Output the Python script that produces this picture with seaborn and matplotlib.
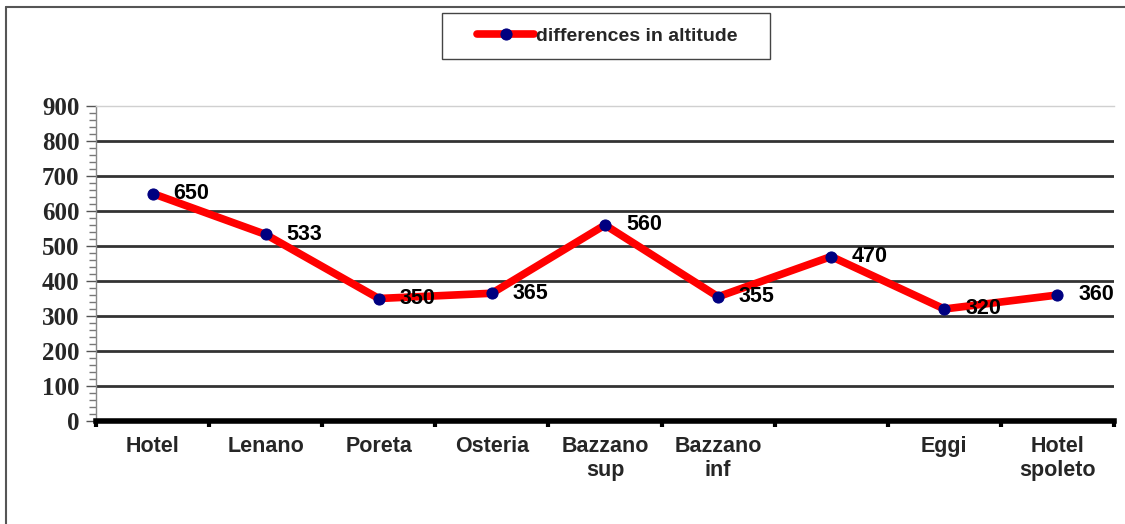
import matplotlib
matplotlib.use("Agg")
import matplotlib.pyplot as plt
import seaborn as sns
import pandas as pd
import numpy as np
from matplotlib.lines import Line2D
from matplotlib.patches import Rectangle
from matplotlib.ticker import MultipleLocator, FixedLocator, NullFormatter

categories = ["Hotel", "Lenano", "Poreta", "Osteria", "Bazzano\nsup", "Bazzano\ninf", "", "Eggi", "Hotel\nspoleto"]
values = [650, 533, 350, 365, 560, 355, 470, 320, 360]
series_name = "differences in altitude"
y_ticks = [0, 100, 200, 300, 400, 500, 600, 700, 800, 900]

df = pd.DataFrame({"idx": np.arange(len(categories)), "value": values})

sns.set_style("white")
fig = plt.figure(figsize=(11.25, 5.24), dpi=100)
ax = fig.add_axes([96/1125, 1-421/524, (1114-96)/1125, (421-106)/524])

sns.lineplot(data=df, x="idx", y="value", ax=ax, color="#ff0000", linewidth=5.5,
             marker="o", markersize=8, markerfacecolor="#000080", markeredgecolor="#000080",
             label=series_name, zorder=3)

for i, v in enumerate(values):
    ax.annotate(str(v), (i, v), xytext=(15, 0), textcoords="offset points",
                ha="left", va="center", fontsize=15.5, fontweight="bold",
                family="Liberation Sans", color="black", zorder=4)

ax.set_xlim(-0.5, len(categories) - 0.5)
ax.set_ylim(0, 900)

# grid lines
for y in y_ticks[1:-1]:
    ax.axhline(y, color="#333333", linewidth=2, zorder=1)
ax.axhline(900, color="#c8c8c8", linewidth=1.2, zorder=1)

# y axis
ax.yaxis.set_major_locator(FixedLocator(y_ticks))
ax.yaxis.set_minor_locator(MultipleLocator(20))
ax.set_yticklabels([str(t) for t in y_ticks], fontsize=18, fontweight="bold", family="Liberation Serif")
ax.tick_params(axis="y", which="major", left=True, length=7, width=1, color="#555555", pad=5)
ax.tick_params(axis="y", which="minor", left=True, length=5, width=1, color="#777777")

# x axis
ax.set_xticks(np.arange(len(categories)))
ax.set_xticklabels(categories, fontsize=15.5, fontweight="bold", family="Liberation Sans", linespacing=1.15)
ax.tick_params(axis="x", which="major", length=0, pad=11)
ax.xaxis.set_minor_locator(FixedLocator(np.arange(len(categories) + 1) - 0.5))
ax.xaxis.set_minor_formatter(NullFormatter())
ax.tick_params(axis="x", which="minor", bottom=True, length=4, width=3, color="black")

ax.set_xlabel("")
ax.set_ylabel("")

ax.spines["right"].set_visible(False)
ax.spines["top"].set_color("#d0d0d0")
ax.spines["top"].set_linewidth(1)
ax.spines["left"].set_color("#888888")
ax.spines["left"].set_linewidth(1)
ax.spines["bottom"].set_color("black")
ax.spines["bottom"].set_linewidth(4)
ax.spines["bottom"].set_zorder(5)

leg = ax.legend(loc="center left", bbox_to_anchor=(477/1125, 1-36/524), bbox_transform=fig.transFigure,
                frameon=False,
                prop={"family": "Liberation Sans", "weight": "bold", "size": 14},
                handlelength=2.95, handletextpad=0.1, borderpad=0, borderaxespad=0)
leg.legend_handles[0].set_markersize(8)

# legend frame box
fig.patches.append(Rectangle((442/1125, 1-59/524), 328/1125, 46/524, transform=fig.transFigure,
                             fill=False, edgecolor="#444444", linewidth=1))

# outer chart border (left and top only visible)
fig.lines.append(Line2D([5.5/1125, 5.5/1125], [0, 1-6.5/524], transform=fig.transFigure,
                        color="#555555", linewidth=1.5))
fig.lines.append(Line2D([5.5/1125, 1], [1-6.5/524, 1-6.5/524], transform=fig.transFigure,
                        color="#555555", linewidth=1.5))

fig.savefig("out.png", dpi=100)
